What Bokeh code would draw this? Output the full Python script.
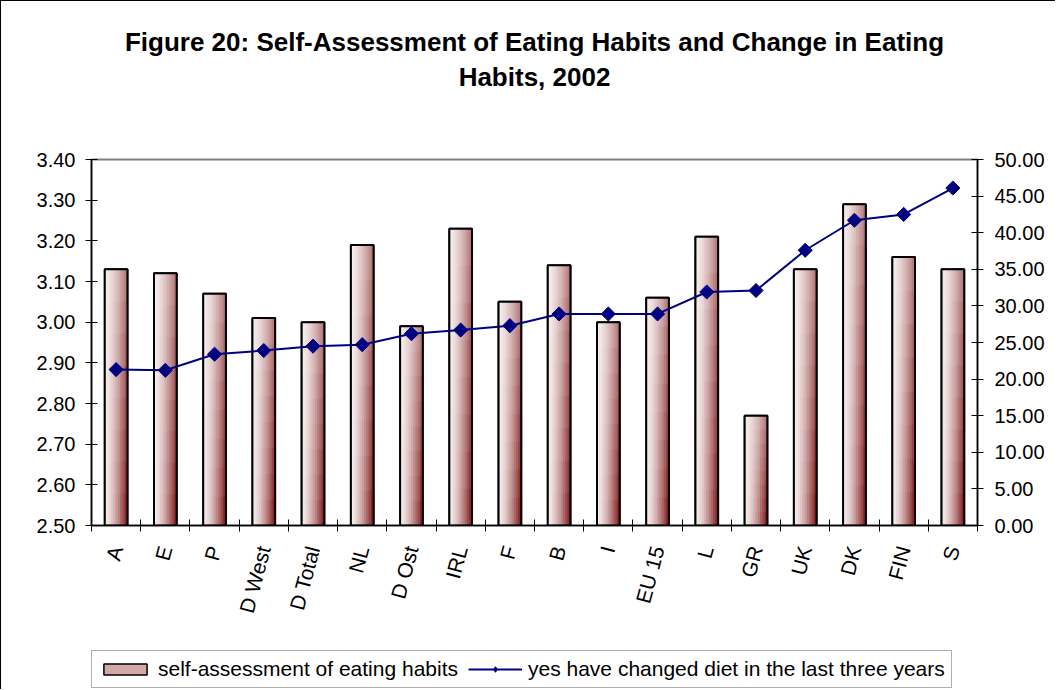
import numpy as np
from bokeh.plotting import figure
from bokeh.layouts import column
from bokeh.models import (Range1d, LinearAxis, FixedTicker, NumeralTickFormatter,
                          Title, Legend, LegendItem, ColumnDataSource)
from bokeh.embed import file_html
from bokeh.resources import INLINE

# ---------------- data ----------------
categories = ["A", "E", "P", "D West", "D Total", "NL", "D Ost", "IRL", "F", "B",
              "I", "EU 15", "L", "GR", "UK", "DK", "FIN", "S"]
self_assessment = [3.13, 3.12, 3.07, 3.01, 3.00, 3.19, 2.99, 3.23, 3.05, 3.14,
                   3.00, 3.06, 3.21, 2.77, 3.13, 3.29, 3.16, 3.13]
changed_diet = [21.3, 21.2, 23.4, 23.9, 24.5, 24.7, 26.2, 26.7, 27.3, 28.9,
                28.9, 28.9, 31.9, 32.1, 37.6, 41.7, 42.5, 46.1]
left_ticks = [2.50, 2.60, 2.70, 2.80, 2.90, 3.00, 3.10, 3.20, 3.30, 3.40]
right_ticks = [0, 5, 10, 15, 20, 25, 30, 35, 40, 45, 50]

FONT = "Liberation Sans"
BAR_FILL = "#d2a8a8"
LINE_COLOR = "#000080"
BASE = left_ticks[0]
idx = list(range(len(categories)))

p = figure(width=1055, height=640,
           x_range=Range1d(-0.5, len(categories) - 0.5),
           y_range=Range1d(left_ticks[0], left_ticks[-1]),
           output_backend="svg", toolbar_location=None,
           min_border_left=90, min_border_right=79,
           min_border_top=158, min_border_bottom=116)
p.styles = {"border-left": "1px solid black", "border-top": "1px solid black"}
p.background_fill_color = "white"
p.border_fill_color = "white"
p.xgrid.visible = False
p.ygrid.visible = False
p.outline_line_color = "#808080"
p.outline_line_width = 2

# titles (stacked from the frame upward: spacer, line 2, line 1)
spacer = Title(text=" ", text_font_size="10px", standoff=53)
p.add_layout(spacer, "above")
t2 = Title(text="Habits, 2002", align="center", text_font=FONT, text_color="black",
           text_font_size="26px", text_font_style="bold", standoff=3)
p.add_layout(t2, "above")
p.title.text = "Figure 20: Self-Assessment of Eating Habits and Change in Eating"
p.title.align = "center"
p.title.text_font = FONT
p.title.text_font_size = "26px"
p.title.text_font_style = "bold"
p.title.text_color = "black"
p.title.standoff = 3

# secondary range
p.extra_y_ranges = {"diet": Range1d(right_ticks[0], right_ticks[-1])}

# ---------------- bars ----------------
W = 0.46
p.vbar(x=idx, width=W, top=self_assessment, bottom=BASE,
       fill_color=BAR_FILL, line_color="black", line_width=2)

# gradient strips (fill of each bar)
NX, NY = 10, 8
light = np.array([248, 240, 240])
dark_top = np.array([180, 122, 122])
dark_bot = np.array([125, 20, 20])
gx, gtop, gbot, gcol = [], [], [], []
for i, val in enumerate(self_assessment):
    h = val - BASE
    for a in range(NX):
        u = (a + 0.5) / NX
        xc = i - W / 2 + (a + 0.5) * W / NX
        for b in range(NY):
            v = (b + 0.5) / NY
            right = dark_bot + (dark_top - dark_bot) * v
            t = u ** 1.5
            c = light + (right - light) * t
            gx.append(xc)
            gbot.append(BASE + h * b / NY)
            gtop.append(BASE + h * (b + 1) / NY)
            gcol.append("#%02x%02x%02x" % tuple(int(round(k)) for k in c))
gsrc = ColumnDataSource(dict(x=gx, top=gtop, bottom=gbot, color=gcol))
p.vbar(x="x", width=W / NX, top="top", bottom="bottom", source=gsrc,
       fill_color="color", line_color="color", line_width=1)

# outline on top
p.vbar(x=idx, width=W, top=self_assessment, bottom=BASE,
       fill_color=None, line_color="black", line_width=2)

# ---------------- line ----------------
p.line(x=idx, y=changed_diet, y_range_name="diet",
       line_color=LINE_COLOR, line_width=2)
p.scatter(x=idx, y=changed_diet, y_range_name="diet", marker="square",
          angle=np.pi / 4, size=10, fill_color=LINE_COLOR, line_color=LINE_COLOR)

# ---------------- axes ----------------
ya = p.yaxis[0]
ya.ticker = FixedTicker(ticks=left_ticks, minor_ticks=[])
ya.formatter = NumeralTickFormatter(format="0.00")
ya.axis_line_color = "black"
ya.axis_line_width = 1.5
ya.major_tick_in = 6
ya.major_tick_out = 6
ya.major_tick_line_color = "black"
ya.minor_tick_line_color = None
ya.major_label_standoff = 10
ya.major_label_text_font = FONT
ya.major_label_text_font_size = "20px"
ya.major_label_text_color = "black"

ra = LinearAxis(y_range_name="diet",
                ticker=FixedTicker(ticks=right_ticks, minor_ticks=[]),
                formatter=NumeralTickFormatter(format="0.00"))
ra.axis_line_color = "black"
ra.axis_line_width = 1.5
ra.major_tick_in = 6
ra.major_tick_out = 6
ra.major_tick_line_color = "black"
ra.minor_tick_line_color = None
ra.major_label_standoff = 11
ra.major_label_text_font = FONT
ra.major_label_text_font_size = "20px"
ra.major_label_text_color = "black"
p.add_layout(ra, "right")

xa = p.xaxis[0]
xa.ticker = FixedTicker(ticks=idx, minor_ticks=[i - 0.5 for i in range(len(categories) + 1)])
xa.major_label_overrides = {i: c for i, c in enumerate(categories)}
xa.axis_line_color = "black"
xa.axis_line_width = 1.5
xa.major_tick_in = 0
xa.major_tick_out = 0
xa.minor_tick_in = 6
xa.minor_tick_out = 6
xa.minor_tick_line_color = "black"
xa.major_label_orientation = 1.31
xa.major_label_standoff = 15
xa.major_label_text_font = FONT
xa.major_label_text_font_size = "21px"
xa.major_label_text_color = "black"

# ---------------- legend (in its own strip below the chart) ----------------
# hidden renderers that only supply the legend's sample glyphs
p2 = figure(width=1055, height=49, x_range=Range1d(-0.5, len(categories) - 0.5),
            y_range=Range1d(1000, 1001),
            output_backend="svg", toolbar_location=None, min_border=0,
            x_axis_location=None, y_axis_location=None)
p2.styles = {"border-left": "1px solid black"}
p2.outline_line_color = None
p2.xgrid.visible = False
p2.ygrid.visible = False
p2.background_fill_color = "white"
p2.border_fill_color = "white"
lg_bar = p2.vbar(x=idx, top=self_assessment, bottom=BASE, width=W,
                 fill_color=BAR_FILL, line_color="black", line_width=1.5, visible=False)
lg_line = p2.line(x=idx, y=changed_diet, line_color=LINE_COLOR, line_width=2,
                  visible=False)
lg_mark = p2.scatter(x=idx, y=changed_diet, marker="diamond", size=14,
                     fill_color=LINE_COLOR, line_color=LINE_COLOR, visible=False)
legend = Legend(items=[
    LegendItem(label="self-assessment of eating habits", renderers=[lg_bar]),
    LegendItem(label="yes have changed diet in the last three years",
               renderers=[lg_line, lg_mark]),
], orientation="horizontal", location=(0, 1), click_policy="none",
   border_line_color="#606060", border_line_width=1.5,
   background_fill_color="white", background_fill_alpha=1,
   label_text_font=FONT, label_text_font_size="21px", label_text_color="black",
   glyph_width=54, glyph_height=14, spacing=10, padding=6, label_standoff=6,
   margin=0)
p2.add_layout(legend)

open("out.html", "w").write(file_html(column(p, p2, spacing=0), INLINE))
